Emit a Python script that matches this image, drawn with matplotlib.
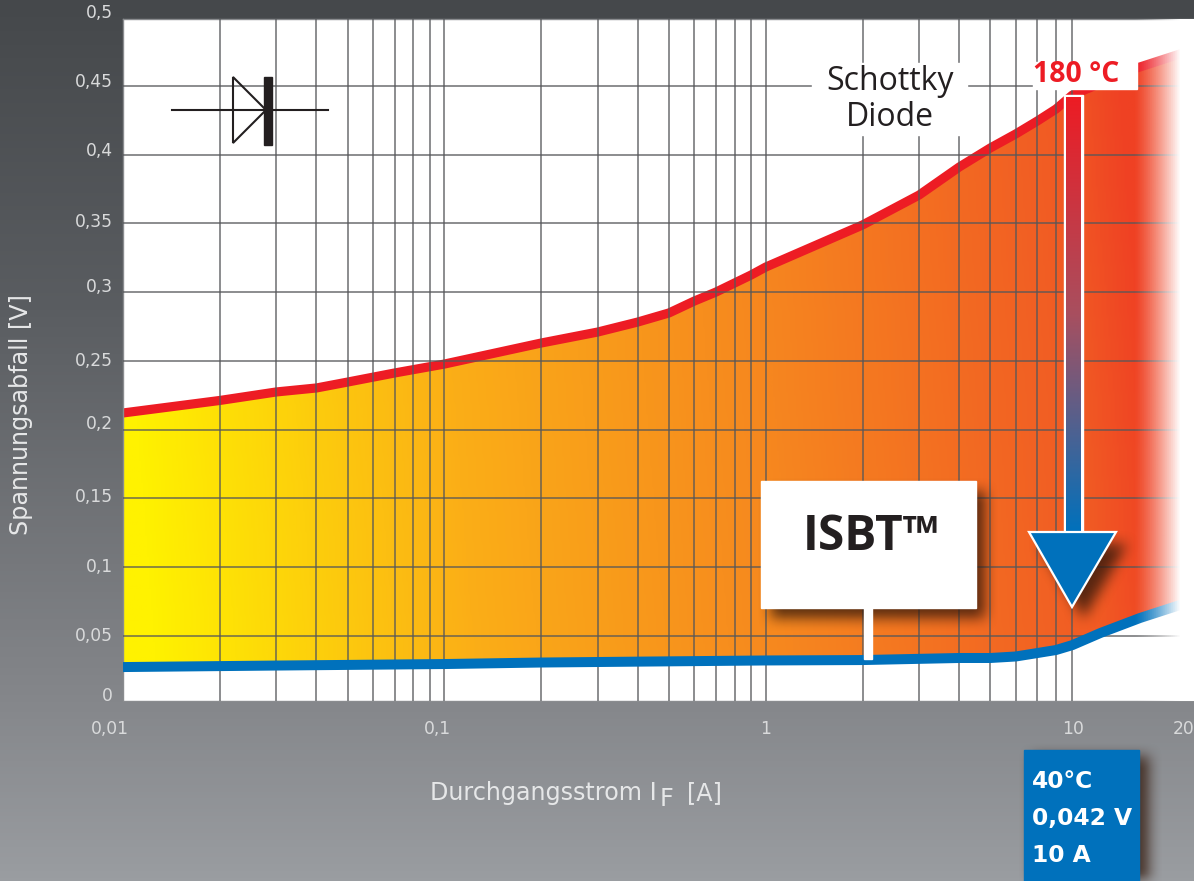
import numpy as np
from matplotlib import pyplot as plt
from matplotlib.colors import LinearSegmentedColormap
from matplotlib.patches import Polygon, Rectangle, PathPatch
from matplotlib.path import Path

W, H = 1194, 881

# grid lines of the log paper (there is no line at 10 A, only the label)
grid_x = [0.02, 0.03, 0.04, 0.05, 0.06, 0.07, 0.08, 0.09, 0.1,
          0.2, 0.3, 0.4, 0.5, 0.6, 0.7, 0.8, 0.9, 1,
          2, 3, 4, 5, 6, 7, 8, 9]
grid_y = [0.05, 0.1, 0.15, 0.2, 0.25, 0.3, 0.35, 0.4, 0.45]

x_labels = ["0,01", "0,1", "1", "10", "20"]
x_label_pos = [0.01, 0.1, 1, 10, 20]
x_label_dx = [-13, -7, 0, -14, 0]
y_labels = ["0", "0,05", "0,1", "0,15", "0,2", "0,25", "0,3", "0,35", "0,4", "0,45", "0,5"]
y_label_pos = [0, 0.05, 0.1, 0.15, 0.2, 0.25, 0.3, 0.35, 0.4, 0.45, 0.5]
y_label_dy = [8, 0, 0, 1, 6, 0, 5, 1, 4, 4, 4]

schottky_a = [0.01, 0.02, 0.03, 0.04, 0.05, 0.07, 0.1, 0.2, 0.3, 0.4, 0.5, 0.6, 0.7,
              0.9, 1, 2, 3, 4, 5, 6, 7, 8, 9, 14.3, 19.9, 21.5]
schottky_v = [0.2121, 0.2212, 0.2274, 0.2303, 0.2346, 0.2412, 0.2477, 0.2630, 0.2710,
              0.2783, 0.2849, 0.2936, 0.3001, 0.3125, 0.3183, 0.3489, 0.3707, 0.3911,
              0.4050, 0.4152, 0.4246, 0.4333, 0.4435, 0.4632, 0.4741, 0.4770]
isbt_a = [0.01, 0.02, 0.03, 0.1, 0.2, 1, 2, 4, 5, 6, 7, 8, 9, 11.0, 14.6, 19.9, 21.5]
isbt_v = [0.0272, 0.0279, 0.0283, 0.0294, 0.0305, 0.0320, 0.0323, 0.0338, 0.0338,
          0.0349, 0.0374, 0.0396, 0.0432, 0.0520, 0.0629, 0.0731, 0.0760]

fill_stops = [(0.0, "#fff200"), (0.30, "#fbae17"), (0.60, "#f6861f"),
              (0.89, "#f15a24"), (0.95, "#ef4123"), (1.0, "#ef4123")]
bg_stops = [(0.0, "#45484b"), (0.35, "#5a5d61"), (0.8, "#85878b"), (1.0, "#9a9da1")]


def shadow_layer():
    # blurred dark shapes behind the two boxes and the arrow head
    mask = np.zeros((H, W))
    mask[491:618, 771:985] = 1
    mask[756:881, 1032:1149] = 1
    yy, xx = np.mgrid[0:H, 0:W]
    half = 44 * (618 - yy) / 75
    mask[(yy > 543) & (yy < 618) & (np.abs(xx - 1083) < half)] = 1
    kernel = np.ones(15) / 15
    for _ in range(2):
        mask = np.apply_along_axis(lambda r: np.convolve(r, kernel, mode="same"), 1, mask)
        mask = np.apply_along_axis(lambda c: np.convolve(c, kernel, mode="same"), 0, mask)
    rgba = np.zeros((H, W, 4))
    rgba[..., :3] = (0.2, 0.1, 0.05)
    rgba[..., 3] = mask * 0.8
    return rgba


fig = plt.figure(figsize=(W / 100, H / 100), dpi=100)

# background
bg = fig.add_axes([0, 0, 1, 1], zorder=0)
bg.axis("off")
bg_cmap = LinearSegmentedColormap.from_list("bg", bg_stops)
bg.imshow(np.linspace(0, 1, 256).reshape(-1, 1), cmap=bg_cmap, aspect="auto")

# chart
ax = fig.add_axes([123 / W, 1 - 701 / H, (W - 123) / W, (701 - 19) / H], zorder=1)
ax.set_xscale("log")

fill_cmap = LinearSegmentedColormap.from_list("fill", fill_stops)
grad = np.linspace(0, 1, 512)
yy = np.linspace(0, 1, 64)
# the gradient leans a little: it is yellower towards the bottom
grad2d = np.clip(grad[None, :] + 0.05 * (yy[:, None] - 0.6), 0, 1)
im = ax.imshow(grad2d, cmap=fill_cmap, vmin=0, vmax=1, extent=(0, 1, 1, 0),
               transform=ax.transAxes, aspect="auto", zorder=1)
band = Path(np.column_stack([schottky_a + isbt_a[::-1], schottky_v + isbt_v[::-1]]))
im.set_clip_path(PathPatch(band, transform=ax.transData))

ax.plot(schottky_a, schottky_v, color="#ed1c24", lw=6.6, solid_capstyle="butt", zorder=2)
ax.plot(isbt_a, isbt_v, color="#0071bc", lw=7.2, solid_capstyle="butt", zorder=4)

ax.set_xticks(grid_x)
ax.set_yticks(grid_y)
ax.minorticks_off()
ax.tick_params(length=0, labelbottom=False, labelleft=False)
ax.grid(True, color="#55575a", alpha=0.68, lw=1.4)
ax.xaxis.set_zorder(3)
ax.yaxis.set_zorder(3)

# white fade on the right edge, over everything in the plot
fade = np.ones((4, 512, 4))
fade[..., 3] = np.clip((np.linspace(123, W, 512) - 1135) / 46, 0, 1) ** 1.3
ax.imshow(fade, extent=(0, 1, 1, 0), transform=ax.transAxes, aspect="auto", zorder=5)

ax.set_xlim(0.01, 21.5)
ax.set_ylim(0.0025, 0.4988)
for side in ["top", "left", "bottom"]:
    ax.spines[side].set_color("#8a8c8f")
    ax.spines[side].set_linewidth(1.0)
ax.spines["right"].set_visible(False)

tick_col = "#d9dadb"
for lab, pos, dx in zip(x_labels, x_label_pos, x_label_dx):
    ax.annotate(lab, xy=(pos, 0), xycoords=("data", "axes fraction"), xytext=(dx, -28),
                textcoords="offset pixels", ha="center", va="center", color=tick_col,
                fontsize=12.3, annotation_clip=False)
for lab, pos, dy in zip(y_labels, y_label_pos, y_label_dy):
    ax.annotate(lab, xy=(0, pos), xycoords=("axes fraction", "data"), xytext=(-10, dy),
                textcoords="offset pixels", ha="right", va="center", color=tick_col,
                fontsize=12.3, annotation_clip=False)

# everything drawn on top of the chart, in picture pixels
top = fig.add_axes([0, 0, 1, 1], zorder=2)
top.axis("off")
top.imshow(shadow_layer(), extent=(0, W, H, 0), aspect="auto", zorder=1)

# diode symbol
top.plot([172, 328], [110, 110], color="#231f20", lw=1.5, zorder=2)
top.add_patch(Polygon([(233, 77), (233, 143), (266, 110)], closed=True, fill=False,
                      ec="#231f20", lw=1.5, zorder=2))
top.add_patch(Rectangle((264, 77), 8, 68, color="#231f20", zorder=2))

# labels
top.text(21, 415, "Spannungsabfall [V]", rotation=90, ha="center", va="center",
         color="#e6e7e8", fontsize=17.2)
top.text(657, 793, "Durchgangsstrom I", ha="right", va="center", color="#e6e7e8", fontsize=17.2)
top.text(660, 799, "F", ha="left", va="center", color="#e6e7e8", fontsize=17.2)
top.text(687, 793, "[A]", ha="left", va="center", color="#e6e7e8", fontsize=17.2)

top.add_patch(Rectangle((812, 63), 155, 72, color="white", zorder=2))
top.text(890, 81, "Schottky", ha="center", va="center", color="#231f20",
         fontsize=23, family="Open Sans", zorder=3)
top.text(890, 117, "Diode", ha="center", va="center", color="#231f20",
         fontsize=23, family="Open Sans", zorder=3)

top.add_patch(Rectangle((1033, 62), 104, 27, color="white", zorder=2))
top.text(1033, 75, "180 °C", ha="left", va="center", color="#ed1c24", fontsize=20.4,
         family="Open Sans", fontweight="bold", zorder=3)

# ISBT box and its stem
top.add_patch(Rectangle((761, 481), 215, 127, color="white", zorder=2))
top.add_patch(Rectangle((864, 607), 8, 52, color="white", zorder=5))
top.text(803, 538, "ISBT™", ha="left", va="center", color="#231f20", fontsize=34.5,
         family="Open Sans", fontweight="bold", zorder=3)

# arrow from 180 °C down to 40 °C
top.add_patch(Rectangle((1064, 95), 19, 440, color="white", zorder=2))
arrow_cmap = LinearSegmentedColormap.from_list("arrow", ["#ed1c24", "#a84f5f", "#0071bc"])
top.imshow(np.linspace(0, 1, 256).reshape(-1, 1), cmap=arrow_cmap,
           extent=(1066, 1081, 532, 97), aspect="auto", zorder=3)
top.add_patch(Polygon([(1029, 532), (1116, 532), (1072, 607)], closed=True,
                      fc="#0071bc", ec="white", lw=1.6, zorder=4))

# value box
top.add_patch(Rectangle((1024, 750), 115, 131, color="#0071bc", zorder=2))
for line, yp in zip(["40°C", "0,042 V", "10 A"], [782, 818, 855]):
    top.text(1032, yp, line, ha="left", va="center", color="white", fontsize=16.8,
             fontweight="bold", zorder=3)

top.set_xlim(0, W)
top.set_ylim(H, 0)

fig.savefig("out.png", dpi=100)
